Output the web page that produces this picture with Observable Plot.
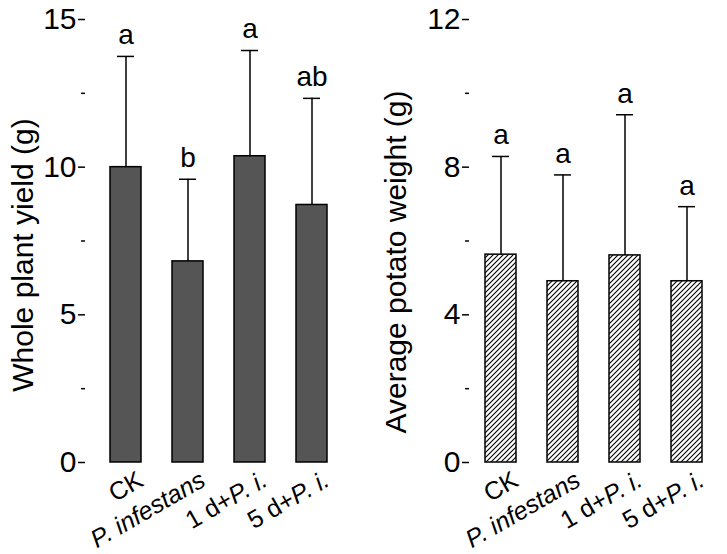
<!DOCTYPE html>
<html>
<head>
<meta charset="utf-8">
<script src="https://cdn.jsdelivr.net/npm/d3@7"></script>
<script src="https://cdn.jsdelivr.net/npm/@observablehq/plot@0.6"></script>
<style>
  html, body { margin: 0; padding: 0; background: #fff; }
  #wrap { position: relative; width: 727px; height: 554px; overflow: hidden; }
  #wrap svg { position: absolute; top: 0; font-family: "Liberation Sans", Arial, sans-serif; }
</style>
</head>
<body>
<div id="wrap"></div>
<script>
const groups = ["CK", "P. infestans", "1 d+P. i.", "5 d+P. i."];

const yieldMean = [10.0, 6.81, 10.37, 8.72];
const yieldErr = [3.75, 2.78, 3.58, 3.61];
const yieldLetters = ["a", "b", "a", "ab"];
const yieldTicks = [0, 5, 10, 15];
const yieldMinor = [2.5, 7.5, 12.5];

const weightMean = [5.63, 4.91, 5.61, 4.91];
const weightErr = [2.66, 2.88, 3.81, 2.02];
const weightLetters = ["a", "a", "a", "a"];
const weightTicks = [0, 4, 8, 12];
const weightMinor = [2, 6, 10];

function table(means, errs, letters) {
  return groups.map((g, i) => ({group: g, mean: means[i], top: means[i] + errs[i], letter: letters[i]}));
}

function panel({data, domain, ticks, minor, label, fill, left, width, marginLeft, marginRight, align, labelDx, labelDy}) {
  const svg = Plot.plot({
    width, height: 554,
    marginLeft, marginRight, marginTop: 19, marginBottom: 92,
    style: {fontFamily: "Liberation Sans, Arial, sans-serif", color: "#000", background: "transparent"},
    x: {domain: groups, paddingInner: 0.5, paddingOuter: 0.3, align, label: null},
    y: {domain, label: null},
    marks: [
      Plot.barY(data, {x: "group", y: "mean", fill, stroke: "#000", strokeWidth: 1.5}),
      Plot.ruleX(data, {x: "group", y1: "mean", y2: "top", stroke: "#000", strokeWidth: 1.5}),
      Plot.tickY(data, {x: "group", y: "top", stroke: "#000", strokeWidth: 1.5, insetLeft: 7, insetRight: 7}),
      Plot.text(data, {x: "group", y: "top", text: "letter", dy: -21, fontSize: 28, fill: "#000"}),
      Plot.axisY({ticks, tickSize: 7, tickPadding: 2, fontSize: 30, line: true, strokeWidth: 1.5, label: null}),
      Plot.axisY({ticks: minor, tickSize: 4, tickFormat: () => "", strokeWidth: 1.5, label: null}),
      Plot.axisX({tickSize: 0, line: true, strokeWidth: 1.5, tickRotate: -30, fontSize: 25, dx: 15, dy: 3, label: null}),
      Plot.text([label], {frameAnchor: "left", textAnchor: "middle", rotate: -90, dx: labelDx, dy: labelDy, fontSize: 30, fill: "#000"})
    ]
  });
  svg.style.left = left + "px";
  // hatch pattern definition
  const ns = "http://www.w3.org/2000/svg";
  const defs = document.createElementNS(ns, "defs");
  defs.innerHTML = '<pattern id="hatch" patternUnits="userSpaceOnUse" width="5" height="5">' +
    '<rect width="5" height="5" fill="#fff"/>' +
    '<path d="M-1,1 l2,-2 M0,5 l5,-5 M4,6 l2,-2" stroke="#000" stroke-width="1.1"/></pattern>';
  svg.insertBefore(defs, svg.firstChild);
  // italicize species names in the x tick labels
  svg.querySelectorAll('g[aria-label="x-axis tick label"] text').forEach(t => {
    const s = t.textContent;
    t.textContent = "";
    s.split(/(P\. (?:infestans|i\.))/).forEach(part => {
      if (!part) return;
      const ts = document.createElementNS(ns, "tspan");
      ts.textContent = part;
      if (/^P\. /.test(part)) ts.setAttribute("font-style", "italic");
      t.appendChild(ts);
    });
  });
  return svg;
}

const wrap = document.getElementById("wrap");
wrap.appendChild(panel({
  data: table(yieldMean, yieldErr, yieldLetters),
  domain: [0, 15], ticks: yieldTicks, minor: yieldMinor,
  label: "Whole plant yield (g)", fill: "#555555",
  left: 0, width: 363, marginLeft: 85, marginRight: 20, align: 0.6, labelDx: -62, labelDy: 14
}));
wrap.appendChild(panel({
  data: table(weightMean, weightErr, weightLetters),
  domain: [0, 12], ticks: weightTicks, minor: weightMinor,
  label: "Average potato weight (g)", fill: "url(#hatch)",
  left: 363, width: 364, marginLeft: 106, marginRight: 3, align: 0.42, labelDx: -73, labelDy: 21
}));
</script>
</body>
</html>
